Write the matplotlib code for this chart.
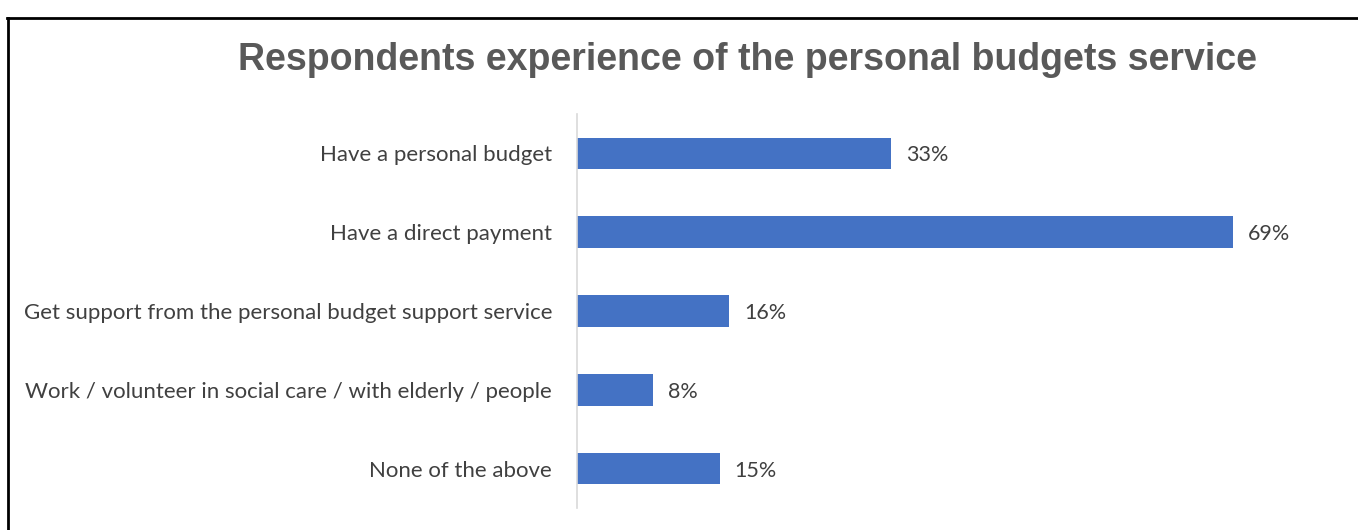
import matplotlib
matplotlib.use("Agg")
import matplotlib.pyplot as plt
from matplotlib.lines import Line2D

title = "Respondents experience of the personal budgets service"
categories = [
    "Have a personal budget",
    "Have a direct payment",
    "Get support from the personal budget support service",
    "Work / volunteer in social care / with elderly / people",
    "None of the above",
]
values = [33, 69, 16, 8, 15]

W, H = 1358, 530
fig = plt.figure(figsize=(W / 100, H / 100), dpi=100)
fig.patch.set_facecolor("white")

left_px, right_px = 577, 1337
top_px, bottom_px = 114, 508
ax = fig.add_axes([left_px / W, (H - bottom_px) / H,
                   (right_px - left_px) / W, (bottom_px - top_px) / H])

bar_color = "#4472C4"
text_color = "#404040"
ypos = list(range(len(categories)))
ax.barh(ypos, values, height=0.4, color=bar_color)
ax.set_ylim(len(categories) - 0.5, -0.5)
ax.set_xlim(0, 80)

label_font = "Lato"
for y, v in zip(ypos, values):
    ax.text(v + 1.6, y, f"{v}%", va="center_baseline", ha="left",
            fontsize=15.5, color=text_color, family=label_font)

ax.set_yticks(ypos)
ax.set_yticklabels(categories, fontsize=16, color=text_color, family=label_font)
for lbl in ax.get_yticklabels():
    lbl.set_verticalalignment("center_baseline")
ax.tick_params(axis="y", length=0, pad=18)
ax.set_xticks([])
for s in ["top", "right", "bottom"]:
    ax.spines[s].set_visible(False)
ax.spines["left"].set_color("#d9d9d9")
ax.spines["left"].set_linewidth(1.2)

fig.text(747 / W, 1 - 60 / H, title, ha="center", va="center",
         fontsize=27, fontweight="bold", color="#595959",
         family="Liberation Sans")

# outer frame (left and top edges)
fig.add_artist(Line2D([8 / W, 8 / W], [0, 1 - 17.5 / H],
                      transform=fig.transFigure, color="black", lw=2))
fig.add_artist(Line2D([7 / W, 1], [1 - 17.5 / H, 1 - 17.5 / H],
                      transform=fig.transFigure, color="black", lw=2))

fig.savefig("out.png", dpi=100, facecolor="white")
